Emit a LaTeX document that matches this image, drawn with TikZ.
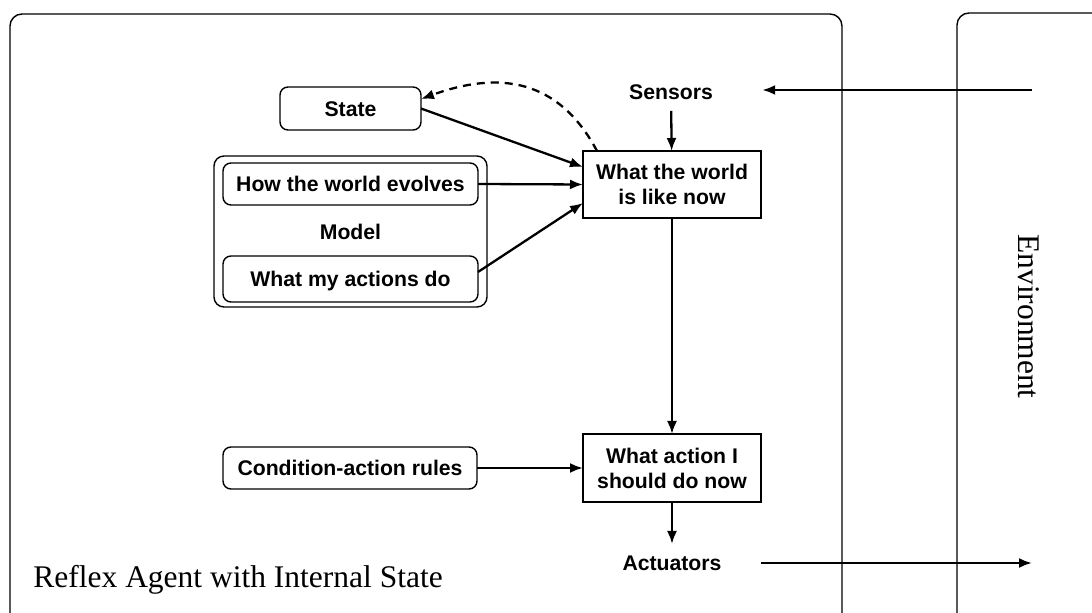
\documentclass[tikz,border=0pt]{standalone}
\usepackage{fontspec}
\setmainfont{Liberation Serif}
\newfontfamily\labelfont{Liberation Sans}
\usetikzlibrary{arrows.meta}

\tikzset{
  px/.style={x=0.5pt,y=-0.5pt},
  frame/.style={draw,line width=0.7pt,rounded corners=6pt},
  boxtext/.style={font=\labelfont\bfseries\fontsize{10.6}{12.5}\selectfont},
  roundbox/.style={boxtext,draw,line width=0.7pt,rounded corners=4pt,
    inner sep=0pt,outer sep=0pt,text height=7.6pt,text depth=0pt},
  squarebox/.style={boxtext,draw,line width=0.7pt,inner sep=0pt,outer sep=0pt,
    align=center},
  plainlabel/.style={boxtext,inner sep=5.5pt,text height=7.6pt,text depth=0pt},
  flow/.style={line width=1.15pt,-{Latex[length=6.5pt,width=5pt]}},
  feedback/.style={flow,dash pattern=on 4pt off 3pt}
}

\begin{document}
\begin{tikzpicture}[px]
  \useasboundingbox (0,0) rectangle (1092,613);

  % agent and environment frames
  \draw[frame] (10,615) |- (842,14) -- (842,615);
  \draw[frame] (957,615) |- (1100,13);
  \node[font=\fontsize{15.75}{18}\selectfont,rotate=-90,inner sep=0pt] (env) at (1029,316.5) {Environment};
  \node[font=\fontsize{15.75}{18}\selectfont,anchor=base west,inner sep=0pt] (title) at (33,588) {Reflex Agent with Internal State};

  % internal state and model
  \node[roundbox,minimum width=70.5pt,minimum height=21.5pt] (state) at (350.5,108.5) {State};
  \node[draw,line width=0.7pt,rounded corners=5pt,minimum width=136.5pt,minimum height=75.5pt,inner sep=0pt] (model) at (350.5,231.5) {};
  \node[roundbox,minimum width=127.5pt,minimum height=21pt] (evolves) at (350.5,184) {How the world evolves};
  \node[plainlabel,inner sep=0pt] (modellabel) at (350.5,232) {Model};
  \node[roundbox,minimum width=127.5pt,minimum height=23pt] (actions) at (350.5,279) {What my actions do};
  \node[roundbox,minimum width=127pt,minimum height=21pt] (rules) at (350,468) {Condition-action rules};

  % perception and decision
  \node[plainlabel] (sensors) at (671,92) {Sensors};
  \node[squarebox,minimum width=89pt,minimum height=33.5pt] (world) at (672,184.5) {What the world\\is like now};
  \node[squarebox,minimum width=89pt,minimum height=34pt] (decide) at (672,468) {What action I\\should do now};
  \node[plainlabel] (actuators) at (672,563) {Actuators};

  \coordinate (percept) at (1032,90);
  \coordinate (effect) at (1032,563);

  % connectors
  \draw[flow,shorten >=19pt] (percept) -- (sensors.east |- percept);
  \draw[flow] (sensors) -- (world);
  \draw[flow] (state.east) -- ([yshift=8.75pt]world.west);
  \draw[flow] (evolves.east) -- (world.west);
  \draw[flow] ([yshift=3.5pt]actions.east) -- ([yshift=-9.25pt]world.west);
  \draw[feedback] ([xshift=7pt]world.north west) to[out=118,in=20,looseness=1.15] ([yshift=4.75pt]state.east);
  \draw[flow] (world) -- (decide);
  \draw[flow] (rules.east) -- (decide.west);
  \draw[flow] (decide) -- (actuators);
  \draw[flow,shorten <=14pt] (actuators.east) -- (effect);
\end{tikzpicture}
\end{document}
